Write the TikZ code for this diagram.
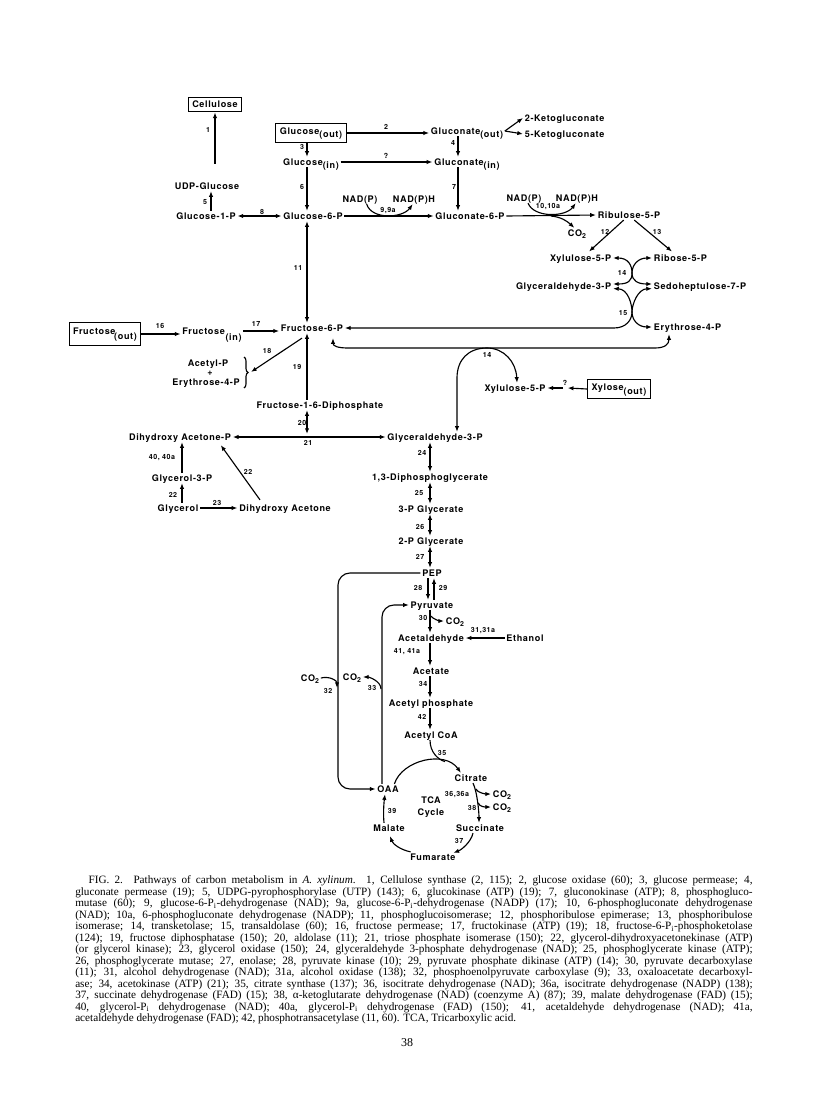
\documentclass[tikz,border=0pt]{standalone}
\usepackage{fontspec}
\usetikzlibrary{arrows.meta,decorations.pathreplacing,calc}
\newfontfamily\dfont{TeX Gyre Heros}[LetterSpace=7]
\newfontfamily\capfont{Liberation Serif}
\newcommand{\lowsub}[1]{\raisebox{-2.6pt}[0pt][0pt]{#1}}
\newcommand{\cotwo}{CO\raisebox{-1.8pt}[0pt][0pt]{\fontsize{5.2}{6}\selectfont 2}}
\hbadness=10000
\hfuzz=50pt
\begin{document}
\begin{tikzpicture}[x=0.75pt,y=-0.75pt,
 lab/.style={font=\dfont\bfseries\fontsize{6.8}{7}\selectfont, inner sep=1.2pt, text height=4.9pt, text depth=0pt},
 num/.style={font=\dfont\bfseries\fontsize{5.3}{6}\selectfont, inner sep=0.5pt},
 bx/.style={lab, draw, line width=0.9pt, inner xsep=3pt, inner ysep=3.5pt, text depth=2.6pt},
 arr/.style={-{Latex[length=4.3pt,width=3.3pt]}, line width=0.85pt},
 darr/.style={{Latex[length=4.3pt,width=3.3pt]}-{Latex[length=4.3pt,width=3.3pt]}, line width=0.85pt},
 ln/.style={line width=0.85pt}]
\useasboundingbox (0,0) rectangle (816,1102);
\fill[white] (0,0) rectangle (816,1102);
% columns
\coordinate (c1) at (307,0);
\coordinate (c2) at (458,0);
\coordinate (c3) at (430,0);
\coordinate (c4) at (182,0);
\coordinate (c5) at (211,0);
\coordinate (c28) at (428,0);
\coordinate (c29) at (434,0);
\coordinate (c32) at (338,0);
\coordinate (c33) at (382,0);
% nodes
\node[bx, inner ysep=3.1pt, text depth=0pt, line width=0.7pt] (cell) at (215,104.5) {Cellulose};
\node[bx] (gluout) at (311,133) {Glucose\lowsub{(out)}};
\node[lab] (glcnout) at (467,131) {Gluconate\lowsub{(out)}};
\node[lab, anchor=west] (kg2) at (523,118) {2-Ketogluconate};
\node[lab, anchor=west] (kg5) at (523,134) {5-Ketogluconate};
\node[lab] (gluin) at (311,162) {Glucose\lowsub{(in)}};
\node[lab] (glcnin) at (467,162) {Gluconate\lowsub{(in)}};
\node[lab] (udp) at (207,186) {UDP-Glucose};
\node[lab] (g1p) at (206,216) {Glucose-1-P};
\node[lab] (g6p) at (313,216) {Glucose-6-P};
\node[lab] (glcn6p) at (470,216) {Gluconate-6-P};
\node[lab] (nadp1) at (360,199) {NAD(P)};
\node[lab] (nadph1) at (414,199) {NAD(P)H};
\node[lab] (nadp2) at (524,198) {NAD(P)};
\node[lab] (nadph2) at (577,198) {NAD(P)H};
\node[lab] (ribu) at (629,215) {Ribulose-5-P};
\node[lab] (co2a) at (577,233) {\cotwo};
\node[lab, anchor=east] (xylu) at (613,258) {Xylulose-5-P};
\node[lab, anchor=west] (ribo) at (652,258) {Ribose-5-P};
\node[lab, anchor=east] (gap) at (613,286) {Glyceraldehyde-3-P};
\node[lab, anchor=west] (sedo) at (652,286) {Sedoheptulose-7-P};
\node[lab, anchor=west] (ery) at (652,327) {Erythrose-4-P};
\node[bx, inner ysep=4pt, text depth=4pt] (fruout) at (105,334) {Fructose\kern-1pt\raisebox{-4pt}[0pt][0pt]{(out)}};
\node[lab] (fruin) at (212,331) {Fructose\kern0.5pt\raisebox{-5pt}[0pt][0pt]{(in)}};
\node[lab] (f6p) at (312,328) {Fructose-6-P};
\node[lab] (acp) at (208,363) {Acetyl-P};
\node[lab] (plus) at (210,372.5) {+};
\node[lab] (ery2) at (206,382) {Erythrose-4-P};
\node[lab] (fdp) at (320,405) {Fructose-1-6-Diphosphate};
\node[lab] (dhap) at (180,437) {Dihydroxy Acetone-P};
\node[lab] (gap2) at (435,437) {Glyceraldehyde-3-P};
\node[lab] (xylu2) at (515,388) {Xylulose-5-P};
\node[bx] (xylose) at (619,389) {Xylose\lowsub{(out)}};
\node[lab] (g3p) at (182,478) {Glycerol-3-P};
\node[lab] (glyc) at (178,508) {Glycerol};
\node[lab] (dha) at (285,508) {Dihydroxy Acetone};
\node[lab] (bpg) at (430,477) {1,3-Diphosphoglycerate};
\node[lab] (pg3) at (431,509) {3-P Glycerate};
\node[lab] (pg2) at (431,541) {2-P Glycerate};
\node[lab] (pep) at (432,573) {PEP};
\node[lab] (pyr) at (432,605) {Pyruvate};
\node[lab, anchor=west] (co2b) at (444,621) {\cotwo};
\node[lab] (acald) at (431,638) {Acetaldehyde};
\node[lab] (eth) at (525,638) {Ethanol};
\node[lab] (acet) at (431,671) {Acetate};
\node[lab] (acph) at (431,703) {Acetyl phosphate};
\node[lab] (acoa) at (431,735) {Acetyl CoA};
\node[lab] (oaa) at (388,789) {OAA};
\node[lab] (cit) at (471,778) {Citrate};
\node[lab] (succ) at (480,828) {Succinate};
\node[lab] (mal) at (389,828) {Malate};
\node[lab] (fum) at (433,857) {Fumarate};
\node[lab] (tca) at (431,800) {TCA};
\node[lab] (cyc) at (431,812) {Cycle};
\node[lab, anchor=west] (co2c) at (491,794) {\cotwo};
\node[lab, anchor=west] (co2d) at (491,807) {\cotwo};
\node[lab] (co2e) at (310,678) {\cotwo};
\node[lab] (co2f) at (352,677) {\cotwo};
% connectors top
\draw[arr] ($(udp.north -| cell.south)+(0,-17)$) -- (cell.south);
\draw[arr] (g1p.north -| c5) -- (udp.south -| c5);
\draw[darr] (g1p.east) -- (g6p.west);
\draw[arr] (gluout.east) -- (gluout.east -| glcnout.west);
\draw[arr] (glcnout.east) -- (kg2.west);
\draw[arr] (glcnout.east) -- (kg5.west);
\draw[arr] (gluout.south -| c1) -- (gluin.north -| c1);
\draw[arr] (glcnout.south -| c2) -- (glcnin.north -| c2);
\draw[arr] (gluin.east) -- (glcnin.west);
\draw[arr] (gluin.south -| c1) -- (g6p.north -| c1);
\draw[arr] (glcnin.south -| c2) -- (glcn6p.north -| c2);
\draw[arr] (g6p.east) -- (glcn6p.west);
\draw[arr] ([xshift=5pt]nadp1.south) .. controls +(5,16) and +(-10,14) .. ([xshift=-1pt]nadph1.south);
\draw[arr] (glcn6p.east) -- (ribu.west);
\draw[arr] ([xshift=3pt]nadp2.south) .. controls +(6,15) and +(-10,14) .. ([xshift=-1pt]nadph2.south);
\coordinate (bco2) at (551,216);
\draw[arr] (bco2) .. controls (561,217) and (567,221) .. ([xshift=-2pt]co2a.north);
\draw[arr] ([xshift=-4pt]ribu.south) -- ([xshift=-18pt,yshift=1pt]xylu.north east);
\draw[arr] ([xshift=4pt]ribu.south) -- ([xshift=15pt,yshift=1pt]ribo.north west);
% transketolase / transaldolase
\draw[darr] (xylu.east) .. controls (628,258) and (632,265) .. (632,273) .. controls (632,281) and (638,284) .. ([yshift=1.5pt]sedo.west);
\draw[darr] ([yshift=1.5pt]gap.east) .. controls (628,284) and (632,281) .. (632,273) .. controls (632,265) and (638,258) .. (ribo.west);
\draw[darr] ([yshift=-2pt]gap.east) .. controls (628,289) and (632,304) .. (632,312) .. controls (632,320) and (638,327) .. (ery.west);
\draw[darr] ([yshift=-2pt]sedo.west) .. controls (638,289) and (632,304) .. (632,312) .. controls (632,320) and (626,328) .. (614,328) -- (f6p.east);
\draw[darr] ($(f6p.south)+(21,5)$) .. controls +(0,8) and +(-10,0) .. (348,348) -- (655,348) .. controls +(10,0) and +(0,10) .. ($(ery.south west)+(17,2)$);
\draw[darr] ($(gap2.north)+(22,0)$) -- (457,378) .. controls (457,360) and (468,348) .. (487,348) .. controls (504,348) and (516,362) .. ($(xylu2.north)+(2,0)$);
\coordinate (qm) at (565,388);
\draw[arr] (xylose.west) -- ([xshift=2pt]qm);
\draw[arr] ([xshift=-1.5pt]qm) -- (xylu2.east);
% fructose
\draw[arr] (fruout.east) -- (fruout.east -| fruin.west);
\draw[arr] (fruin.east) -- (fruin.east -| f6p.west);
\draw[darr] (g6p.south -| c1) -- (f6p.north -| c1);
\draw[decorate, decoration={brace, amplitude=3pt}, ln] (244,357) -- (244,388);
\coordinate (btip) at (251,372);
\draw[arr] ($(f6p.south)+(-10,5)$) -- (btip);
\draw[arr] (fdp.north -| c1) -- (f6p.south -| c1);
\coordinate (j21) at (307,434);
\draw[darr] (fdp.south -| c1) -- (j21);
\draw[darr] (dhap.east) -- (gap2.west);
\draw[arr] (g3p.north -| c4) -- (dhap.south -| c4);
\draw[arr] (glyc.north -| c4) -- (g3p.south -| c4);
\draw[arr] (glyc.east) -- (dha.west);
\draw[arr] ($(dha.north)+(-25,-3)$) -- ($(dhap.south east)+(-12,3)$);
% glycolysis
\draw[darr] (gap2.south -| c3) -- (bpg.north -| c3);
\draw[darr] (bpg.south -| c3) -- (pg3.north -| c3);
\draw[darr] (pg3.south -| c3) -- (pg2.north -| c3);
\draw[darr] (pg2.south -| c3) -- (pep.north -| c3);
\draw[arr] (pep.south -| c28) -- (pyr.north -| c28);
\draw[arr] (pyr.north -| c29) -- (pep.south -| c29);
\draw[arr] (pyr.south -| c3) -- (acald.north -| c3);
\draw[arr] ($(pyr.south -| c3)+(1,6)$) .. controls +(2,3) and +(-4,0) .. (co2b.west);
\draw[arr] (eth.west) -- (acald.east);
\draw[arr] (acald.south -| c3) -- (acet.north -| c3);
\draw[arr] (acet.south -| c3) -- (acph.north -| c3);
\draw[arr] (acph.south -| c3) -- (acoa.north -| c3);
\draw[arr, rounded corners=9pt] (pep.west) -- (pep.west -| c32) -- (c32 |- oaa.west) -- (oaa.west);
\draw[arr, rounded corners=9pt] (oaa.north -| c33) -- (c33 |- pyr.west) -- (pyr.west);
\draw[arr] (co2e.east) .. controls +(8,-2) and +(0,-8) .. ($(c32 |- co2e.east)+(-1,10)$);
\draw[arr] ($(c33 |- co2f.east)+(-1,12)$) .. controls +(0,-8) and +(6,0) .. (co2f.east);
% TCA
\draw[arr] ($(oaa.north east)+(-6,0)$) .. controls (402,760) and (445,750) .. ($(cit.north west)+(8,0)$);
\draw[ln] (acoa.south -| c3) .. controls +(0,12) and +(-7,-2) .. (445,761.6);
\draw[arr] ($(cit.south)+(2,0)$) .. controls +(4,8) and +(0,-12) .. ($(succ.north)+(-1,0)$);
\coordinate (b36) at (475.8,789);
\coordinate (b38) at (478.3,803);
\draw[arr] (b36) .. controls +(2,4) and +(-5,0) .. (co2c.west);
\draw[arr] (b38) .. controls +(1,4) and +(-5,0) .. (co2d.west);
\draw[arr] ($(succ.south)+(-7,0)$) .. controls +(-2,9) and +(8,-3) .. ($(fum.north east)+(-4,1)$);
\draw[arr] ($(fum.north west)+(2,0)$) .. controls +(-10,-2) and +(3,8) .. ($(mal.south)+(1,3)$);
\draw[arr] ($(mal.north)+(-5,0)$) .. controls +(-1,-10) and +(-1,8) .. ($(oaa.south)+(-3,0)$);
% labels
\node[num] (l1) at (208,130) {1};
\node[num] (l2) at (386,127) {2};
\node[num] (l3) at (302,147) {3};
\node[num] (l4) at (453,143) {4};
\node[num] (lq1) at (386,156) {?};
\node[num] (l6) at (302,187) {6};
\node[num] (l7) at (454,187) {7};
\node[num] (l5) at (205,202) {5};
\node[num] (l8) at (262,212) {8};
\node[num] (l9) at (388,211) {9,9a};
\node[num] (l10) at (548,207) {10,10a};
\node[num] (l12) at (605,232) {12};
\node[num] (l13) at (657,232) {13};
\node[num] (l14) at (622,273) {14};
\node[num] (l15) at (623,313) {15};
\node[num] (l11) at (298,268) {11};
\node[num] (l16) at (160,326) {16};
\node[num] (l17) at (256,324) {17};
\node[num] (l18) at (267,351) {18};
\node[num] (l19) at (297,367) {19};
\node[num] (l14b) at (487,355) {14};
\node[num] (lq2) at (565,383) {?};
\node[num] (l20) at (302,423) {20};
\node[num] (l21) at (308,443) {21};
\node[num] (l40) at (162,458) {40, 40a};
\node[num] (l22a) at (173,495) {22};
\node[num] (l23) at (217,503) {23};
\node[num] (l22b) at (248,472) {22};
\node[num] (l24) at (422,453) {24};
\node[num] (l25) at (419,493) {25};
\node[num] (l26) at (420,527) {26};
\node[num] (l27) at (420,557) {27};
\node[num] (l28) at (418,588) {28};
\node[num] (l29) at (443,588) {29};
\node[num] (l30) at (423,618) {30};
\node[num] (l31) at (483,631) {31,31a};
\node[num] (l41) at (407,652) {41, 41a};
\node[num] (l34) at (423,684) {34};
\node[num] (l42) at (422,717) {42};
\node[num] (l35) at (442,753) {35};
\node[num] (l32) at (328,691) {32};
\node[num] (l33) at (372,688) {33};
\node[num] (l36) at (457,795) {36,36a};
\node[num] (l38) at (472,808) {38};
\node[num] (l37) at (459,841) {37};
\node[num] (l39) at (392,811) {39};
% caption
\node[anchor=north west, inner sep=0pt, text width=508pt, align=justify, font=\capfont\fontsize{8.4}{8.625}\selectfont] (cap) at (75,875.5) {\tolerance=9999\hspace*{10pt}FIG. 2. Pathways of carbon metabolism in \textit{A. xylinum}. 1, Cellulose synthase (2, 115); 2, glucose oxidase (60); 3, glucose permease; 4,\linebreak
gluconate permease (19); 5, UDPG-pyrophosphorylase (UTP) (143); 6, glucokinase (ATP) (19); 7, gluconokinase (ATP); 8, phosphogluco-\linebreak
mutase (60); 9, glucose-6-P\textsubscript{i}-dehydrogenase (NAD); 9a, glucose-6-P\textsubscript{i}-dehydrogenase (NADP) (17); 10, 6-phosphogluconate dehydrogenase\linebreak
(NAD); 10a, 6-phosphogluconate dehydrogenase (NADP); 11, phosphoglucoisomerase; 12, phosphoribulose epimerase; 13, phosphoribulose\linebreak
isomerase; 14, transketolase; 15, transaldolase (60); 16, fructose permease; 17, fructokinase (ATP) (19); 18, fructose-6-P\textsubscript{i}-phosphoketolase\linebreak
(124); 19, fructose diphosphatase (150); 20, aldolase (11); 21, triose phosphate isomerase (150); 22, glycerol-dihydroxyacetonekinase (ATP)\linebreak
(or glycerol kinase); 23, glycerol oxidase (150); 24, glyceraldehyde 3-phosphate dehydrogenase (NAD); 25, phosphoglycerate kinase (ATP);\linebreak
26, phosphoglycerate mutase; 27, enolase; 28, pyruvate kinase (10); 29, pyruvate phosphate dikinase (ATP) (14); 30, pyruvate decarboxylase\linebreak
(11); 31, alcohol dehydrogenase (NAD); 31a, alcohol oxidase (138); 32, phosphoenolpyruvate carboxylase (9); 33, oxaloacetate decarboxyl-\linebreak
ase; 34, acetokinase (ATP) (21); 35, citrate synthase (137); 36, isocitrate dehydrogenase (NAD); 36a, isocitrate dehydrogenase (NADP) (138);\linebreak
37, succinate dehydrogenase (FAD) (15); 38, α-ketoglutarate dehydrogenase (NAD) (coenzyme A) (87); 39, malate dehydrogenase (FAD) (15);\linebreak
40, glycerol-P\textsubscript{i} dehydrogenase (NAD); 40a, glycerol-P\textsubscript{i} dehydrogenase (FAD) (150); 41, acetaldehyde dehydrogenase (NAD); 41a,\linebreak
acetaldehyde dehydrogenase (FAD); 42, phosphotransacetylase (11, 60). TCA, Tricarboxylic acid.\par};
\node[font=\capfont\fontsize{9}{10}\selectfont] (pgno) at (407,1043) {38};
\end{tikzpicture}
\end{document}
